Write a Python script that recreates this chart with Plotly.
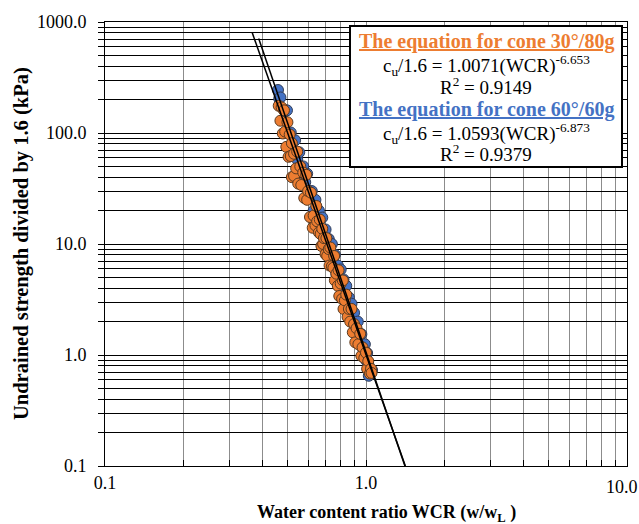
import plotly.graph_objects as go

# ---------------- data ----------------
orange_x = [0.463, 0.47, 0.475, 0.48, 0.485, 0.49, 0.495, 0.50, 0.505, 0.51, 0.515, 0.52, 0.52,
            0.53, 0.53, 0.54, 0.545, 0.55, 0.56, 0.565, 0.575, 0.58, 0.59, 0.595, 0.60, 0.61,
            0.615, 0.625, 0.63, 0.64, 0.645, 0.65, 0.66, 0.665, 0.67, 0.675, 0.68, 0.685, 0.69,
            0.70, 0.705, 0.71, 0.72, 0.725, 0.73, 0.74, 0.75, 0.755, 0.76, 0.77, 0.78, 0.785,
            0.79, 0.80, 0.81, 0.815, 0.82, 0.83, 0.84, 0.85, 0.86, 0.87, 0.88, 0.89, 0.90,
            0.91, 0.92, 0.935, 0.95, 0.96, 0.97, 0.985, 1.0, 1.01, 1.02, 1.035, 1.045, 1.05]
orange_y = [176, 129, 170, 99, 160, 103, 75, 125, 61, 97, 62, 40, 81,
            41, 65, 48, 68, 35, 50, 34, 44, 26, 42, 25, 30, 17.5,
            29, 14, 18, 14.7, 22, 16, 12.7, 16.6, 12.3, 9.6, 13.7, 10, 11.3,
            8.1, 11.3, 7.8, 9.0, 6.4, 9.3, 6.3, 6.1, 7.8, 4.7, 5.4, 4.2, 5.8,
            3.4, 4.4, 3.2, 4.7, 2.6, 3.1, 3.5, 2.2, 2.6, 2.0, 2.6, 1.6, 1.9,
            1.3, 1.74, 1.25, 1.55, 0.98, 1.17, 0.94, 1.05, 0.75, 0.88, 0.68, 0.75, 0.69]

blue_x = [0.46, 0.465, 0.47, 0.48, 0.49, 0.498, 0.505, 0.515, 0.525, 0.535, 0.545, 0.555,
          0.565, 0.575, 0.585, 0.595, 0.605, 0.62, 0.63, 0.64, 0.65, 0.66, 0.67, 0.68,
          0.69, 0.70, 0.71, 0.72, 0.73, 0.74, 0.75, 0.76, 0.77, 0.78, 0.79, 0.80, 0.81,
          0.82, 0.83, 0.84, 0.85, 0.86, 0.87, 0.88, 0.89, 0.90, 0.915, 0.93, 0.945, 0.96,
          0.975, 0.99, 1.0, 1.01, 1.02, 1.03, 1.04, 1.025, 1.055]
blue_y = [244, 204, 209, 131, 157, 160, 99, 101, 71, 86, 58, 67,
          48, 50, 36, 43, 30, 30, 20, 25, 17.4, 20, 13.3, 17.3,
          12.2, 13.5, 9.0, 11.1, 7.8, 10, 6.9, 8.0, 5.4, 6.4, 4.8, 5.9, 3.8,
          4.8, 3.4, 4.2, 2.75, 3.3, 2.5, 2.9, 2.0, 2.4, 1.75, 2.0, 1.33, 1.54,
          1.13, 1.25, 0.9, 1.04, 0.83, 0.74, 0.69, 0.65, 0.73]

# trend lines (power fits shown in the chart)
fit_orange = (1.0071, -6.653)
fit_blue = (1.0593, -6.873)
fit_orange_x = [0.366, 1.415]
fit_blue_x = [0.388, 1.41]

y_ticks = [0.1, 1, 10, 100, 1000]
y_ticktext = ["0.1", "1.0", "10.0", "100.0", "1000.0"]
x_ticks = [0.1, 1, 10]
x_ticktext = ["0.1", "1.0", ""]
x_edge_label = "10.0"

FONT = "Liberation Serif"
ORANGE = "#ED7D31"
BLUE = "#4472C4"

L, R, T, B, W, H = 105, 12, 22, 58, 639, 524
PW, PH = W - L - R, H - T - B


def px(x):  # page pixel -> paper x
    return (x - L) / PW


def py(y):  # page pixel -> paper y
    return (H - B - y) / PH


fig = go.Figure()
fig.add_trace(go.Scatter(x=blue_x, y=blue_y, mode="markers",
                         marker=dict(size=11, color=BLUE, line=dict(color="#2f3b55", width=1)),
                         showlegend=False))
fig.add_trace(go.Scatter(x=orange_x, y=orange_y, mode="markers",
                         marker=dict(size=11, color=ORANGE, line=dict(color="#5a3a20", width=1)),
                         showlegend=False))
for (a, b), xs in [(fit_orange, fit_orange_x), (fit_blue, fit_blue_x)]:
    fig.add_trace(go.Scatter(x=xs, y=[a * v ** b for v in xs], mode="lines",
                             line=dict(color="black", width=1.5), showlegend=False))

minor_y = [m * d for d in [0.1, 1, 10, 100] for m in range(2, 10)]
minor_x = [m * d for d in [0.1, 1] for m in range(2, 10)]

fig.update_xaxes(type="log", range=[-1, 1], tickvals=x_ticks, ticktext=x_ticktext,
                 automargin=False,
                 showgrid=True, gridcolor="#8c8c8c", gridwidth=1,
                 ticks="inside", ticklen=6, tickcolor="black",
                 minor=dict(tickvals=minor_x, showgrid=True, gridcolor="#8c8c8c", gridwidth=1,
                            ticks="inside", ticklen=6, tickcolor="black"),
                 showline=True, linecolor="black", linewidth=1, mirror=True,
                 zeroline=False,
                 tickfont=dict(family=FONT, size=18, color="black"))
fig.update_yaxes(type="log", range=[-1, 3], tickvals=y_ticks, ticktext=y_ticktext,
                 automargin=False,
                 showgrid=True, gridcolor="black", gridwidth=1,
                 ticks="outside", ticklen=6, tickcolor="black",
                 minor=dict(tickvals=minor_y, showgrid=True, gridcolor="black", gridwidth=1,
                            ticks="outside", ticklen=6, tickcolor="black"),
                 showline=True, linecolor="black", linewidth=1, mirror=True,
                 zeroline=False, ticklabelstandoff=8,
                 tickfont=dict(family=FONT, size=18, color="black"))

# edge tick label and axis titles
fig.add_annotation(xref="paper", yref="paper", x=px(622), y=py(487), text=x_edge_label,
                   showarrow=False, xanchor="center", yanchor="middle",
                   font=dict(family=FONT, size=18, color="black"))
fig.add_annotation(xref="paper", yref="paper", x=px(386), y=py(513),
                   text="<b>Water content ratio WCR (w/w<sub>L</sub> )</b>",
                   showarrow=False, xanchor="center", yanchor="middle",
                   font=dict(family=FONT, size=18, color="black"))
fig.add_annotation(xref="paper", yref="paper", x=px(21), y=py(244),
                   text="<b>Undrained strength divided by 1.6 (kPa)</b>", textangle=-90,
                   showarrow=False, xanchor="center", yanchor="middle",
                   font=dict(family=FONT, size=20.5, color="black"))

# equation box
fig.add_shape(type="rect", xref="paper", yref="paper",
              x0=px(350), x1=px(622), y0=py(167), y1=py(26),
              line=dict(color="black", width=2), fillcolor="white", layer="above")

lines = [
    (41, "<b><u>The equation for cone 30°/80g</u></b>", ORANGE, 20),
    (65, "c<sub>u</sub>/1.6 = 1.0071(WCR)<sup>-6.653</sup>", "black", 19),
    (86, "R<sup>2</sup> = 0.9149", "black", 19),
    (110, "<b><u>The equation for cone 60°/60g</u></b>", BLUE, 20),
    (133, "c<sub>u</sub>/1.6 = 1.0593(WCR)<sup>-6.873</sup>", "black", 19),
    (153, "R<sup>2</sup> = 0.9379", "black", 19),
]
for yy, txt, col, sz in lines:
    fig.add_annotation(xref="paper", yref="paper", x=px(486), y=py(yy),
                       text=txt, showarrow=False, xanchor="center", yanchor="middle",
                       font=dict(family=FONT, size=sz, color=col))

fig.update_layout(width=W, height=H, margin=dict(l=L, r=R, t=T, b=B),
                  plot_bgcolor="white", paper_bgcolor="white",
                  font=dict(family=FONT, color="black"))

fig.write_html("out.html", config={"displayModeBar": False},
               post_script="document.body.style.margin='0';document.body.style.overflow='hidden';")
